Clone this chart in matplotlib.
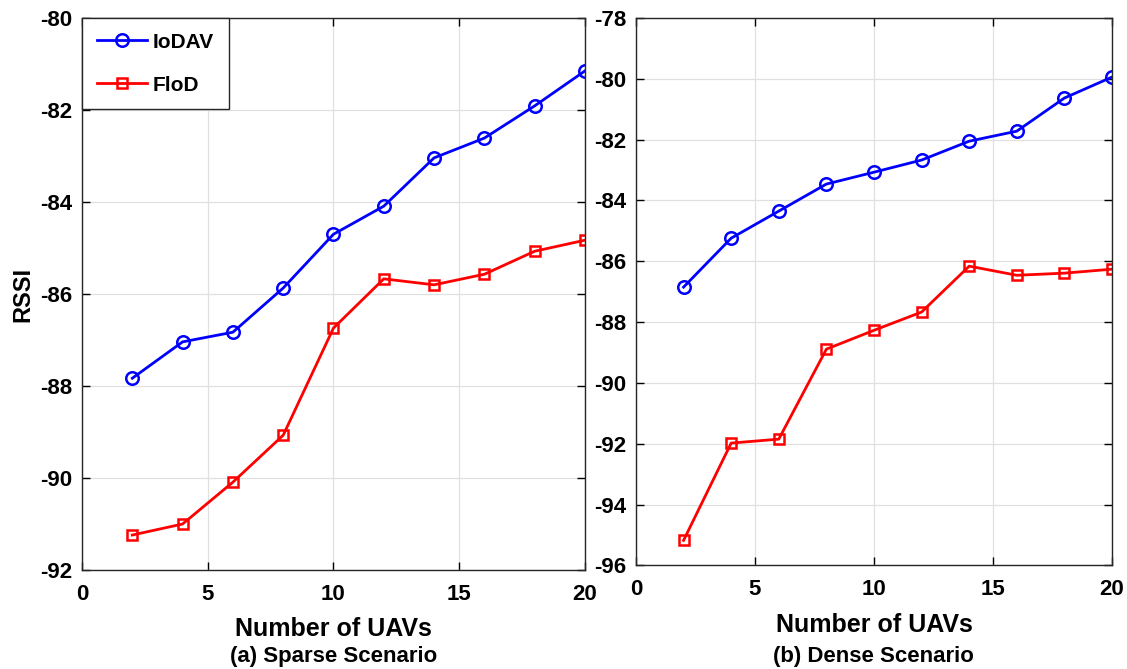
"""RSSI versus number of UAVs for sparse and dense deployments."""

import matplotlib

matplotlib.use("Agg")
import matplotlib.pyplot as plt

plt.rcParams["font.family"] = ["Liberation Sans", "DejaVu Sans"]
plt.rcParams["font.weight"] = "bold"
plt.rcParams["axes.unicode_minus"] = False

num_uavs = [2, 4, 6, 8, 10, 12, 14, 16, 18, 20]

sparse_iodav = [-87.83, -87.04, -86.83, -85.87, -84.70, -84.09, -83.04, -82.61, -81.91, -81.15]
sparse_flod = [-91.24, -91.00, -90.09, -89.07, -86.74, -85.67, -85.80, -85.57, -85.07, -84.83]

dense_iodav = [-86.85, -85.24, -84.35, -83.46, -83.07, -82.67, -82.05, -81.72, -80.63, -79.94]
dense_flod = [-95.18, -91.98, -91.85, -88.89, -88.27, -87.67, -86.16, -86.46, -86.39, -86.26]

x_ticks = [0, 5, 10, 15, 20]
sparse_y_ticks = [-92, -90, -88, -86, -84, -82, -80]
dense_y_ticks = [-96, -94, -92, -90, -88, -86, -84, -82, -80, -78]


def style_axis(axis, y_ticks):
    """Box the axis with inward ticks and a light grid."""

    axis.set_xlim(0, 20)
    axis.set_ylim(y_ticks[0], y_ticks[-1])
    axis.set_xticks(x_ticks)
    axis.set_yticks(y_ticks)
    axis.grid(True, color="#e0e0e0", linewidth=0.9)
    axis.set_axisbelow(True)
    axis.tick_params(direction="in", top=True, right=True, labelsize=16, length=6, width=1.0)
    axis.tick_params(axis="x", pad=10)
    axis.tick_params(axis="y", pad=7)
    for spine in axis.spines.values():
        spine.set_color("#262626")
        spine.set_linewidth(1.0)
    axis.set_xlabel("Number of UAVs", fontsize=18, fontweight="bold", labelpad=9)


def plot_series(axis, iodav, flod):
    axis.plot(num_uavs, iodav, color="#0000ff", linewidth=2, marker="o", markersize=9,
              markerfacecolor="none", markeredgewidth=1.8, label="IoDAV")
    axis.plot(num_uavs, flod, color="#ff0000", linewidth=2, marker="s", markersize=7.5,
              markerfacecolor="none", markeredgewidth=1.8, label="FloD")


fig = plt.figure(figsize=(11.27, 6.69), dpi=100)
left = fig.add_axes([0.0728, 0.148, 0.4462, 0.825])
right = fig.add_axes([0.5643, 0.155, 0.4224, 0.818])

plot_series(left, sparse_iodav, sparse_flod)
style_axis(left, sparse_y_ticks)
left.set_ylabel("RSSI", fontsize=17, fontweight="bold", labelpad=4)
legend = left.legend(loc="upper left", fontsize=15, fancybox=False, framealpha=1,
                     edgecolor="#262626", borderaxespad=0, handlelength=2.4,
                     handletextpad=0.3, labelspacing=1.15, borderpad=0.7)
legend.get_frame().set_linewidth(1.0)

plot_series(right, dense_iodav, dense_flod)
style_axis(right, dense_y_ticks)

fig.text(0.296, 0.018, "(a) Sparse Scenario", ha="center", va="center", fontsize=16, fontweight="bold")
fig.text(0.775, 0.018, "(b) Dense Scenario", ha="center", va="center", fontsize=16, fontweight="bold")

fig.savefig("out.png", dpi=100)
